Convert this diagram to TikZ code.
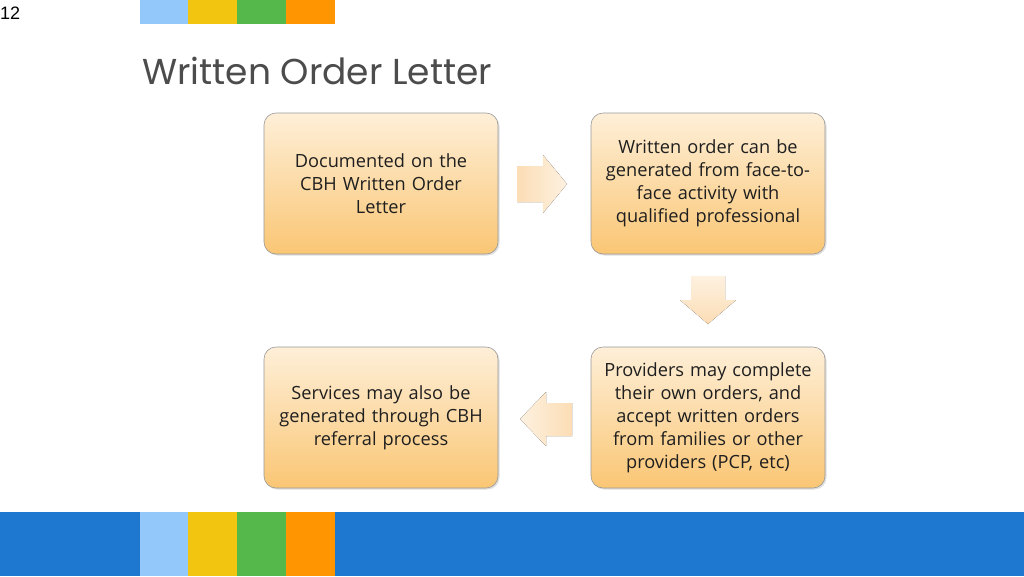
\documentclass[tikz,border=0pt]{standalone}
\usepackage{fontspec}
\setmainfont{Open Sans}
\newfontfamily\titlefont{Poppins}
\newfontfamily\numfont{Liberation Sans}
\usetikzlibrary{shadows}
\definecolor{lblue}{HTML}{93C8FA}
\definecolor{myyellow}{HTML}{F2C511}
\definecolor{mygreen}{HTML}{55B84B}
\definecolor{myorange}{HTML}{FF9500}
\definecolor{barblue}{HTML}{1E78D0}
\definecolor{boxtop}{HTML}{FEEFD8}
\definecolor{boxbot}{HTML}{FAC674}
\definecolor{arrtop}{HTML}{FCDDB5}
\definecolor{arrbot}{HTML}{FDF1E0}
\tikzset{
  stepbox/.style={draw=black!40, line width=0.6pt, rounded corners=12pt,
    top color=boxtop, bottom color=boxbot, minimum width=234pt, minimum height=141pt,
    text width=225pt, align=center, font=\fontsize{18.2}{23}\selectfont, text=black!88,
    drop shadow={shadow xshift=1.5pt, shadow yshift=-1.5pt, opacity=0.25}},
  blockarrow/.style={draw=none, left color=arrtop, right color=arrbot},
  blockarrowv/.style={draw=none, top color=arrbot, bottom color=arrtop},
}
\begin{document}
\begin{tikzpicture}[x=1pt,y=1pt]
\useasboundingbox (0,0) rectangle (1024,-576);
\fill[white] (0,0) rectangle (1024,-576);
% top squares
\fill[lblue] (140,0) rectangle (188,-24);
\fill[myyellow] (188,0) rectangle (237,-24);
\fill[mygreen] (237,0) rectangle (286,-24);
\fill[myorange] (286,0) rectangle (335,-24);
% bottom bar
\fill[barblue] (0,-512) rectangle (1024,-576);
\fill[lblue] (140,-512) rectangle (188,-576);
\fill[myyellow] (188,-512) rectangle (237,-576);
\fill[mygreen] (237,-512) rectangle (286,-576);
\fill[myorange] (286,-512) rectangle (335,-576);
% page number and title
\node[anchor=base west, inner sep=0pt, font=\numfont\fontsize{18}{18}\selectfont] (num) at (0,-19) {12};
\node[anchor=base west, inner sep=0pt, text=black!70, font=\titlefont\fontsize{36}{36}\selectfont] (title) at (142,-84) {Written Order Letter};
% boxes
\node[stepbox] (b1) at (381,-183.5) {Documented on the\\CBH Written Order\\Letter};
\node[stepbox] (b2) at (708,-183.5) {Written order can be\\generated from face-to-\\face activity with\\qualified professional};
\node[stepbox] (b3) at (708,-417.5) {Providers may complete\\their own orders, and\\accept written orders\\from families or other\\providers (PCP, etc)};
\node[stepbox] (b4) at (381,-417.5) {Services may also be\\generated through CBH\\referral process};
% block arrows
\fill[blockarrow] (517,-166) -- (543,-166) -- (543,-155) -- (567,-184) -- (543,-213) -- (543,-202) -- (517,-202) -- cycle;
\fill[blockarrowv] (691,-276) -- (725,-276) -- (725,-300) -- (736,-300) -- (708,-324) -- (680,-300) -- (691,-300) -- cycle;
\fill[left color=arrbot, right color=arrtop] (572,-403) -- (546,-403) -- (546,-392) -- (520,-419) -- (546,-446) -- (546,-436) -- (572,-436) -- cycle;
\end{tikzpicture}
\end{document}
